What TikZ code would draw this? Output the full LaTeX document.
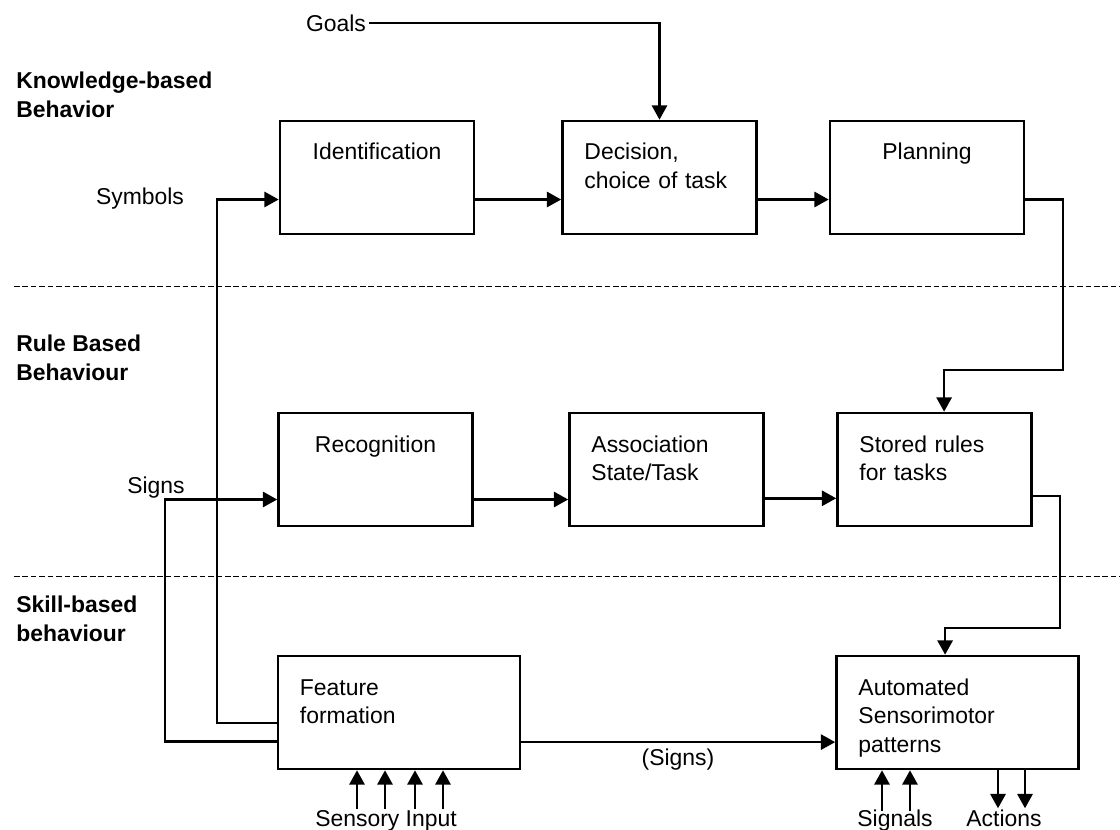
\documentclass[tikz,border=0pt]{standalone}
\usepackage{fontspec}
\setmainfont{Liberation Sans}
\usetikzlibrary{arrows.meta,calc}
\newcommand{\diagfont}{\fontsize{16.3pt}{20.6pt}\selectfont}
\tikzset{
  block/.style={draw, line width=1.8pt, inner xsep=0.55cm, inner ysep=0pt,
    text width=3.75cm, align=left, text height=0.975cm, text depth=1.85cm, font=\diagfont},
  wideblock/.style={block, text width=4.95cm},
  tag/.style={inner sep=2pt, font=\diagfont},
  level/.style={anchor=base west, inner sep=0pt, align=left, font=\diagfont\bfseries},
  flow/.style={line width=1.8pt, -{Triangle[length=0.36cm,width=0.38cm]}},
  sep/.style={line width=0.7pt, dash pattern=on 4pt off 2pt}
}
\begin{document}
\begin{tikzpicture}[x=0.025cm, y=-0.025cm]
\useasboundingbox (0,0) rectangle (1120,830);
% borders between the levels
\draw[sep] (14,286) -- (1120,286);
\draw[sep] (14,576) -- (1120,576);
% level names
\node[level] (kb) at (16,117) {Knowledge-based\\Behavior};
\node[level] (rb) at (16,380) {Rule Based\\Behaviour};
\node[level] (sb) at (16,641) {Skill-based\\behaviour};

% knowledge-based row
\node[block, align=center] (ident) at (377,177.5) {Identification};
\node[block] (decision) at (659.5,177.5) {Decision,\\choice of task};
\node[block, align=center] (plan) at (927,177.5) {Planning};
% rule based row
\node[block, align=center] (recog) at (375.5,469.5) {Recognition};
\node[block] (assoc) at (666.5,469.5) {Association\\State/Task};
\node[block] (stored) at (934.5,469.5) {Stored rules\\for tasks};
% skill-based row
\node[wideblock] (feat) at (399,712.5) {Feature\\formation};
\node[wideblock] (autom) at (957.5,712.5) {Automated\\Sensorimotor\\patterns};

% goals into decision
\node[tag] (goals) at (336,23) {Goals};
\draw[flow] (goals) -| (decision.north);

% feedback from feature formation
\node[tag] (symbols) at (140,199) {Symbols};
\coordinate (symb) at (217,199.5);
\draw[flow] ([yshift=-0.26cm]feat.west) -| (symb) -- (symb -| ident.west);
\node[tag] (signs) at (156,488) {Signs};
\coordinate (sgn) at (165,499.5);
\draw[flow] ([yshift=-0.72cm]feat.west) -| (sgn) -- (sgn -| recog.west);

% along the rows
\draw[flow] ([yshift=-0.55cm]ident.east) -- ([yshift=-0.55cm]decision.west);
\draw[flow] ([yshift=-0.55cm]decision.east) -- ([yshift=-0.55cm]plan.west);
\coordinate (pl) at (1063,370);
\draw[flow] ([yshift=-0.55cm]plan.east) -| (pl) -| ([xshift=0.24cm]stored.north);
\draw[flow] ([yshift=-0.75cm]recog.east) -- ([yshift=-0.75cm]assoc.west);
\draw[flow] ([yshift=-0.72cm]assoc.east) -- ([yshift=-0.72cm]stored.west);
\coordinate (st) at (1060,628);
\draw[flow] ([yshift=-0.66cm]stored.east) -| (st) -| ([xshift=-0.31cm]autom.north);
\draw[flow] ([yshift=-0.74cm]feat.east) -- ([yshift=-0.74cm]autom.west);
\node[tag] (signs2) at (678,760) {(Signs)};

% inputs and outputs
\node[tag, anchor=base] (sensory) at (386,826) {Sensory Input};
\foreach \dx [count=\i] in {-42,-14,16,44}{
  \coordinate (sen\i) at ($(feat.south)+(\dx,39)$);
  \draw[flow] (sen\i) -- (sen\i |- feat.south);
}
\node[tag, anchor=base] (signals) at (895,826) {Signals};
\node[tag, anchor=base] (actions) at (1004,826) {Actions};
\foreach \dx [count=\i] in {-75.5,-47.5}{
  \coordinate (sig\i) at ($(autom.south)+(\dx,41)$);
  \draw[flow] (sig\i) -- (sig\i |- autom.south);
}
\foreach \dx [count=\i] in {40.5,67.5}{
  \coordinate (act\i) at ($(autom.south)+(\dx,38)$);
  \draw[flow] (act\i |- autom.south) -- (act\i);
}
\end{tikzpicture}
\end{document}
